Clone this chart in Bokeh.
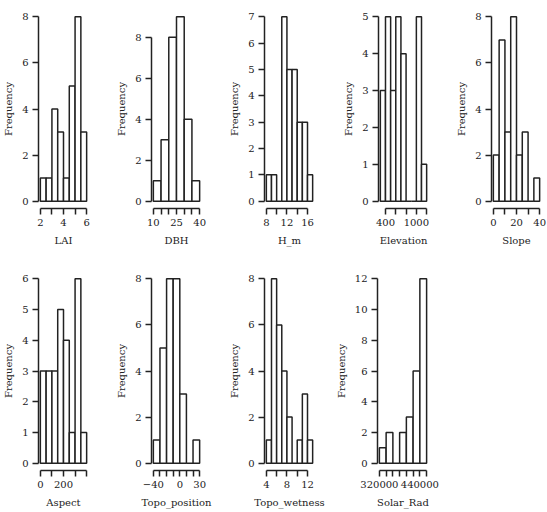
from bokeh.plotting import figure
from bokeh.models import Range1d, FixedTicker
from bokeh.layouts import row, column
from bokeh.embed import file_html
from bokeh.resources import INLINE

# ---- data (bin edges and counts) ----
lai_edges = [2.0, 2.5, 3.0, 3.5, 4.0, 4.5, 5.0, 5.5, 6.0]
lai_counts = [1, 1, 4, 3, 1, 5, 8, 3]
dbh_edges = [10, 15, 20, 25, 30, 35, 40]
dbh_counts = [1, 3, 8, 9, 4, 1]
hm_edges = [8, 9, 10, 11, 12, 13, 14, 15, 16, 17]
hm_counts = [1, 1, 0, 7, 5, 5, 3, 3, 1]
elev_edges = [300, 400, 500, 600, 700, 800, 900, 1000, 1100, 1200]
elev_counts = [3, 5, 3, 5, 4, 0, 0, 5, 1]
slope_edges = [0, 5, 10, 15, 20, 25, 30, 35, 40]
slope_counts = [2, 7, 3, 8, 2, 3, 0, 1]
aspect_edges = [0, 50, 100, 150, 200, 250, 300, 350, 400]
aspect_counts = [3, 3, 3, 5, 4, 1, 6, 1]
tpos_edges = [-40, -30, -20, -10, 0, 10, 20, 30]
tpos_counts = [1, 5, 8, 8, 3, 0, 1]
twet_edges = [4, 5, 6, 7, 8, 9, 10, 11, 12, 13]
twet_counts = [1, 8, 6, 4, 2, 0, 1, 3, 1]
solar_edges = [320000, 340000, 360000, 380000, 400000, 420000, 440000, 460000]
solar_counts = [1, 2, 0, 2, 3, 6, 12]

# ---- tick positions and visible labels ----
lai_xticks = [2, 3, 4, 5, 6];                 lai_xlabels = {2: "2", 4: "4", 6: "6"}
dbh_xticks = [10, 15, 20, 25, 30, 35, 40];     dbh_xlabels = {10: "10", 25: "25", 40: "40"}
hm_xticks = [8, 10, 12, 14, 16];               hm_xlabels = {8: "8", 12: "12", 16: "16"}
elev_xticks = [400, 600, 800, 1000, 1200];     elev_xlabels = {400: "400", 1000: "1000"}
slope_xticks = [0, 10, 20, 30, 40];            slope_xlabels = {0: "0", 20: "20", 40: "40"}
aspect_xticks = [0, 100, 200, 300, 400];       aspect_xlabels = {0: "0", 200: "200"}
tpos_xticks = [-40, -30, -20, -10, 0, 10, 20, 30]; tpos_xlabels = {-40: "\u221240", 0: "0", 30: "30"}
twet_xticks = [4, 6, 8, 10, 12];               twet_xlabels = {4: "4", 8: "8", 12: "12"}
solar_xticks = [320000, 340000, 360000, 380000, 400000, 420000, 440000, 460000]
solar_xlabels = {320000: "320000", 440000: "440000"}

lai_yticks = [0, 2, 4, 6, 8]
dbh_yticks = [0, 2, 4, 6, 8]
hm_yticks = [0, 1, 2, 3, 4, 5, 6, 7]
elev_yticks = [0, 1, 2, 3, 4, 5]
slope_yticks = [0, 2, 4, 6, 8]
aspect_yticks = [0, 1, 2, 3, 4, 5, 6]
tpos_yticks = [0, 2, 4, 6, 8]
twet_yticks = [0, 2, 4, 6, 8]
solar_yticks = [0, 2, 4, 6, 8, 10, 12]

INK = "#222222"
FONT = "DejaVu Serif"
FS = "10px"
FRAME_W = 54
FRAME_H = 199


def panel(name, edges, counts, xticks, xlabels, yticks, width, left, top, height):
    span = edges[-1] - edges[0]
    top_c = max(counts)
    p = figure(width=width, height=height,
               x_range=Range1d(edges[0] - 0.04 * span, edges[-1] + 0.04 * span),
               y_range=Range1d(-0.04 * top_c, 1.04 * top_c),
               output_backend="svg", toolbar_location=None,
               min_border_left=left, min_border_right=width - left - FRAME_W,
               min_border_top=top, min_border_bottom=height - top - FRAME_H)
    p.quad(left=edges[:-1], right=edges[1:], bottom=0, top=counts,
           fill_color="white", line_color=INK, line_width=1.5)
    p.grid.visible = False
    p.outline_line_color = None
    p.background_fill_color = "white"
    p.border_fill_color = "white"

    for ax in (p.xaxis[0], p.yaxis[0]):
        ax.axis_line_color = INK
        ax.axis_line_width = 1.5
        ax.major_tick_line_color = INK
        ax.major_tick_line_width = 1.5
        ax.major_tick_out = 6
        ax.major_tick_in = 0
        ax.minor_tick_line_color = None
        ax.major_label_text_font = FONT
        ax.major_label_text_font_size = FS
        ax.major_label_text_color = INK
        ax.axis_label_text_font = FONT
        ax.axis_label_text_font_size = FS
        ax.axis_label_text_font_style = "normal"
        ax.axis_label_text_color = INK
        ax.major_label_standoff = 4

    xa = p.xaxis[0]
    xa.ticker = FixedTicker(ticks=xticks)
    xa.bounds = (xticks[0], xticks[-1])
    xa.major_label_overrides = {t: xlabels.get(t, "") for t in xticks}
    xa.axis_label = name
    xa.axis_label_standoff = 6

    ya = p.yaxis[0]
    ya.ticker = FixedTicker(ticks=yticks)
    ya.bounds = (yticks[0], yticks[-1])
    ya.axis_label = "Frequency"
    ya.axis_label_standoff = 5
    return p


r1h, r2h = 261, 251
row1 = row(
    panel("LAI", lai_edges, lai_counts, lai_xticks, lai_xlabels, lai_yticks, 113, 34, 9, r1h),
    panel("DBH", dbh_edges, dbh_counts, dbh_xticks, dbh_xlabels, dbh_yticks, 113, 34, 9, r1h),
    panel("H_m", hm_edges, hm_counts, hm_xticks, hm_xlabels, hm_yticks, 114, 34, 9, r1h),
    panel("Elevation", elev_edges, elev_counts, elev_xticks, elev_xlabels, elev_yticks, 113, 34, 9, r1h),
    panel("Slope", slope_edges, slope_counts, slope_xticks, slope_xlabels, slope_yticks, 94, 34, 9, r1h),
)
row2 = row(
    panel("Aspect", aspect_edges, aspect_counts, aspect_xticks, aspect_xlabels, aspect_yticks, 113, 34, 10, r2h),
    panel("Topo_position", tpos_edges, tpos_counts, tpos_xticks, tpos_xlabels, tpos_yticks, 113, 34, 10, r2h),
    panel("Topo_wetness", twet_edges, twet_counts, twet_xticks, twet_xlabels, twet_yticks, 106, 34, 10, r2h),
    panel("Solar_Rad", solar_edges, solar_counts, solar_xticks, solar_xlabels, solar_yticks, 110, 42, 10, r2h),
)
layout = column(row1, row2)

open("out.html", "w").write(file_html(layout, INLINE))
